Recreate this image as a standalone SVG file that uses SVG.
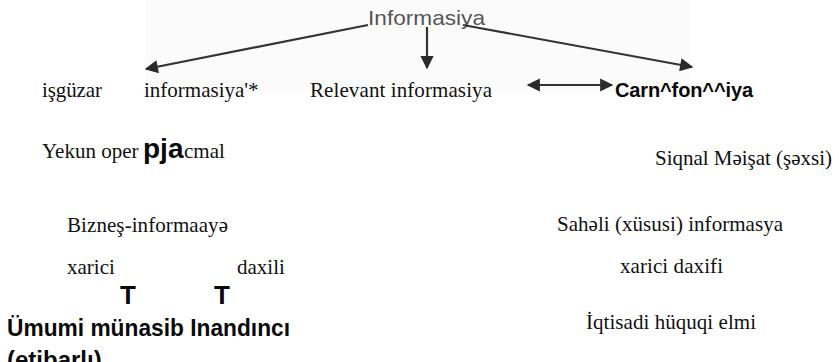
<svg xmlns="http://www.w3.org/2000/svg" width="839" height="362" viewBox="0 0 839 362">
  <style>
    .serif { font-family: "Liberation Serif", "Times New Roman", serif; font-size: 21px; fill: #111; }
    .bold { font-family: "Liberation Sans", Arial, sans-serif; font-weight: bold; fill: #0a0a0a; }
    .title { font-family: "Liberation Sans", Arial, sans-serif; font-size: 21px; fill: #555; }
    .edge { stroke: #333; stroke-width: 2.2; fill: none; }
  </style>
  <defs>
    <marker id="head" viewBox="0 0 10 10" refX="9" refY="5" markerWidth="7" markerHeight="6" markerUnits="strokeWidth" orient="auto-start-reverse">
      <path d="M0,0 L10,5 L0,10 z" fill="#2a2a2a"/>
    </marker>
  </defs>

  <rect width="839" height="362" fill="#ffffff"/>
  <!-- faint grey tone behind the top part -->
  <rect x="145" y="0" width="545" height="92" fill="#fbfbfb"/>

  <g id="root">
    <text class="title" x="368" y="25" textLength="117" lengthAdjust="spacingAndGlyphs">Informasiya</text>
  </g>

  <g id="connectors">
    <line class="edge" x1="368" y1="25" x2="146" y2="69" marker-end="url(#head)"/>
    <line class="edge" x1="427" y1="27" x2="427" y2="68" marker-end="url(#head)"/>
    <line class="edge" x1="463" y1="25" x2="692" y2="67" marker-end="url(#head)"/>
    <line class="edge" x1="528" y1="85" x2="612" y2="85" marker-start="url(#head)" marker-end="url(#head)"/>
  </g>

  <g id="row1">
    <text class="serif" x="42" y="97" textLength="60">işgüzar</text>
    <text class="serif" x="144" y="97" font-size="19.5">informasiya'*</text>
    <text class="serif" x="310" y="97" textLength="182">Relevant informasiya</text>
    <text class="bold" x="615" y="97" font-size="20" textLength="138">Carn^fon^^iya</text>
  </g>

  <g id="operative">
    <text class="serif" x="42" y="158" font-size="21.5">Yekun oper</text>
    <text class="serif" x="184" y="158" font-size="21.5">cmal</text>
    <text class="bold" x="143" y="158" font-size="28">pja</text>
  </g>

  <g id="signal">
    <text class="serif" x="655" y="165" textLength="177">Siqnal Məişat (şəxsi)</text>
  </g>

  <g id="business">
    <text class="serif" x="67" y="232" textLength="161">Bizneş-informaayə</text>
  </g>

  <g id="sector">
    <text class="serif" x="557" y="231" textLength="226">Sahəli (xüsusi) informasya</text>
  </g>

  <g id="business-kinds">
    <text class="serif" x="67" y="274">xarici</text>
    <text class="serif" x="237" y="274">daxili</text>
  </g>

  <g id="sector-kinds">
    <text class="serif" x="620" y="273" textLength="103">xarici daxifi</text>
  </g>

  <g id="marks">
    <text class="bold" x="120" y="304" font-size="26">T</text>
    <text class="bold" x="214" y="304" font-size="26">T</text>
  </g>

  <g id="qualities">
    <text class="bold" x="7" y="336" font-size="24" textLength="283" lengthAdjust="spacingAndGlyphs">Ümumi münasib Inandıncı</text>
    <text class="bold" x="7" y="368" font-size="24">(etibarlı)</text>
  </g>

  <g id="fields">
    <text class="serif" x="586" y="329" textLength="170">İqtisadi hüquqi elmi</text>
  </g>
</svg>
